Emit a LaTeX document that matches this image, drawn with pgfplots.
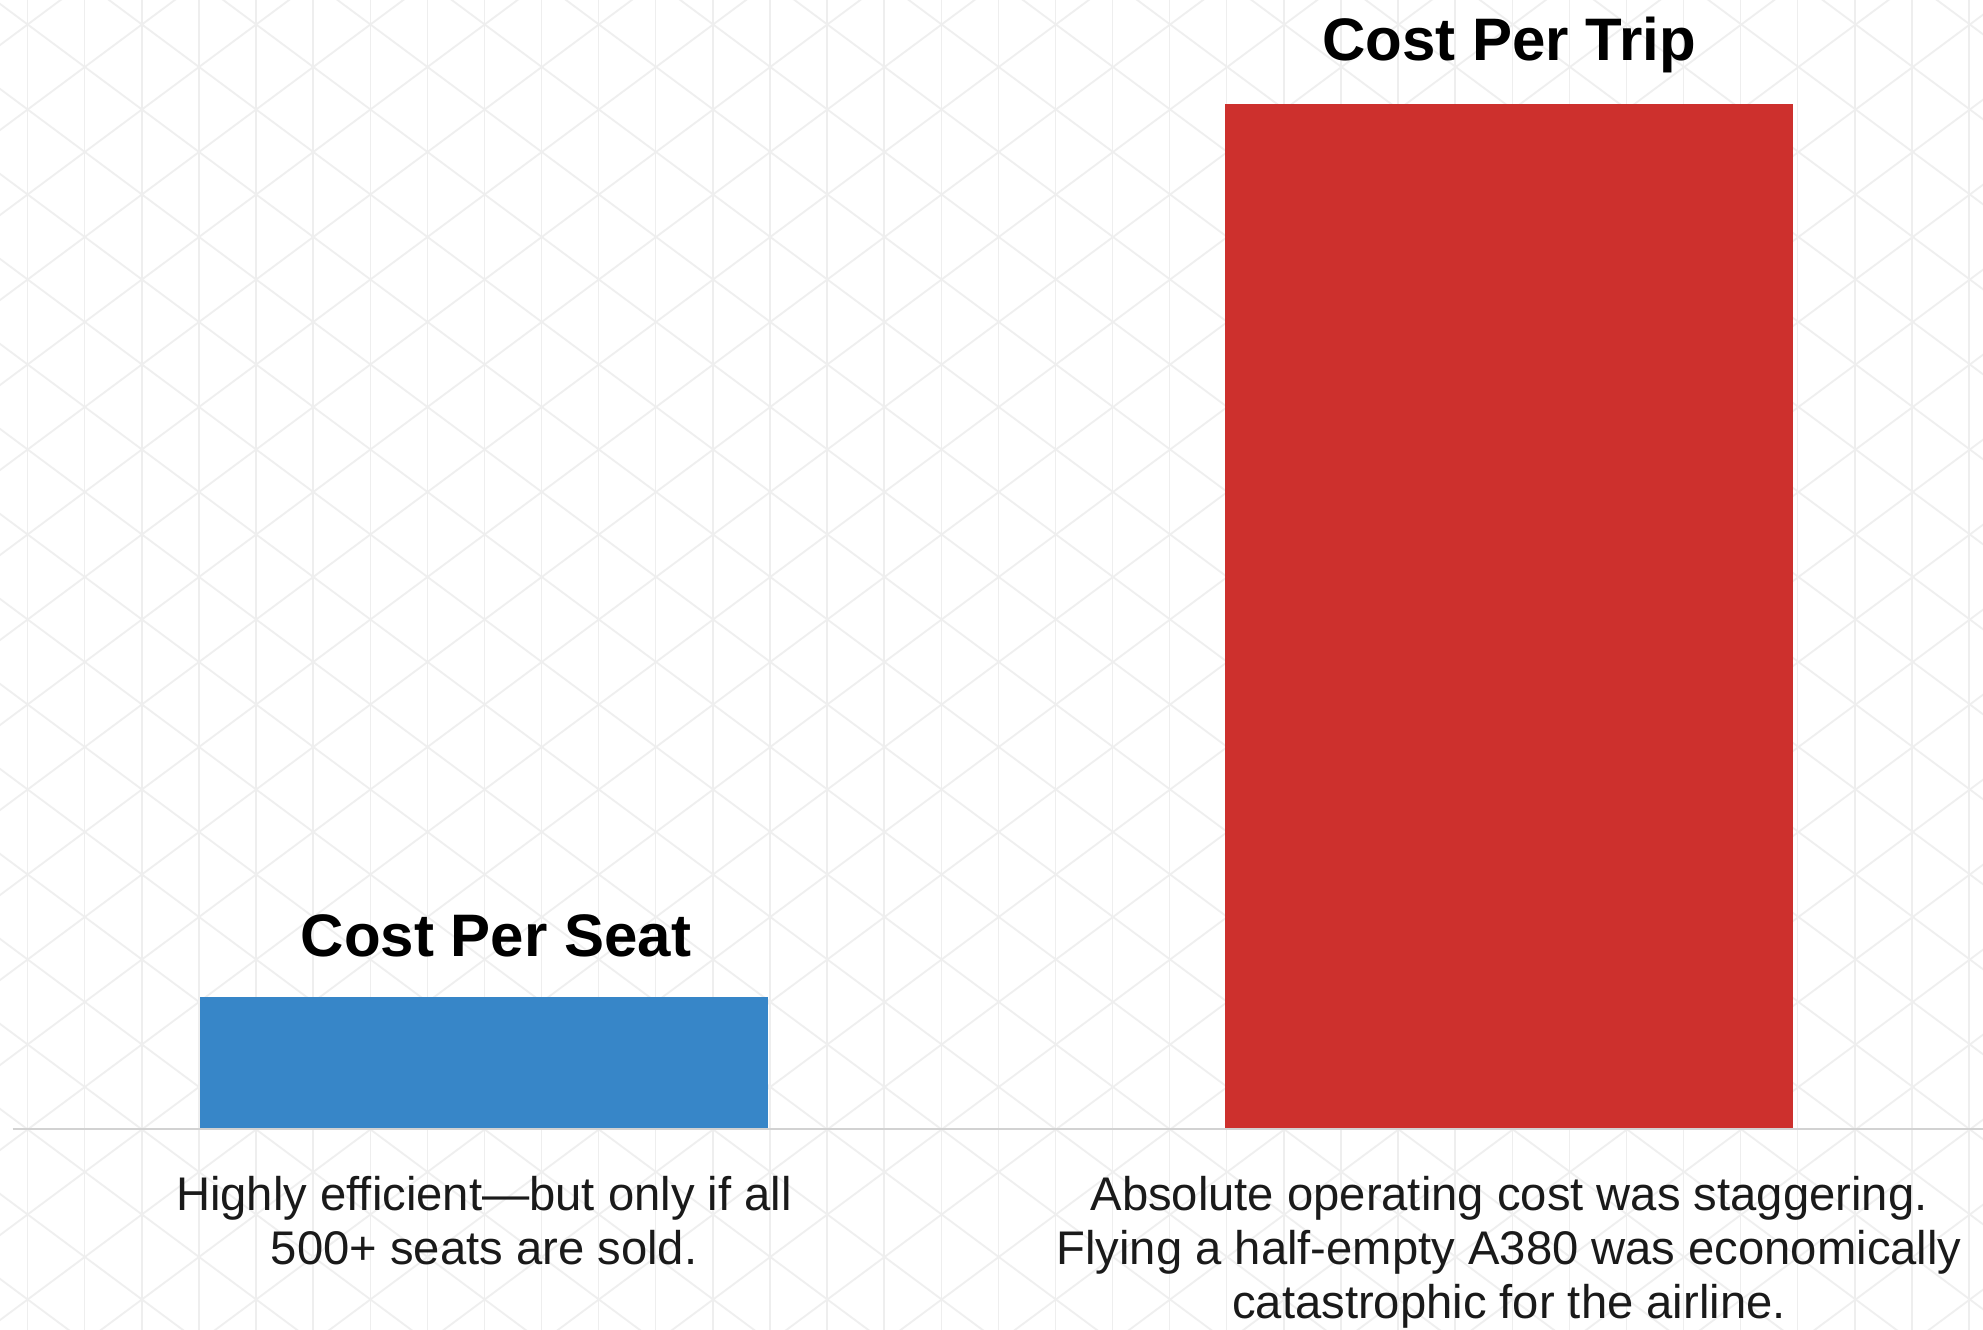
\documentclass[border=0pt]{standalone}
\usepackage{pgfplots}
\pgfplotsset{compat=1.18}
\usepackage{fontspec}
\setmainfont{Liberation Sans}
\definecolor{seatblue}{HTML}{3786C8}
\definecolor{tripred}{HTML}{CD302D}
\definecolor{gridv}{HTML}{EEEEEE}
\definecolor{gridd}{HTML}{EFEFEF}
\definecolor{baseln}{HTML}{D2D2D2}
\definecolor{txt}{HTML}{1A1A1A}

\begin{document}
\begin{tikzpicture}
% picture frame: 1983 x 1330 px, 1 px = 0.25bp
\path[use as bounding box] (0,0) rectangle (495.75bp,332.5bp);
\fill[white] (0,0) rectangle (495.75bp,332.5bp);

% faint isometric background
\begin{scope}[yshift=332.5bp, x=0.25bp, y=-0.25bp]
  \clip (0,0) rectangle (1983,1330);
  \foreach \i in {0,...,35}
    \draw[gridv, line width=0.35bp] ({27.7+57.1*\i},0) -- ++(0,1330);
  \foreach \k in {-20,...,17}
    \draw[gridd, line width=0.45bp] (-100,{24.5+85*\k-95}) -- (2100,{24.5+85*\k+1541.8});
  \foreach \k in {-2,...,35}
    \draw[gridd, line width=0.45bp] (-100,{24.5+85*\k+95}) -- (2100,{24.5+85*\k-1541.8});
\end{scope}

\begin{axis}[
    at={(0,50.25bp)}, anchor=south west,
    scale only axis, width=495.75bp, height=282.25bp,
    xmin=-0.4722, xmax=1.4624, ymin=0, ymax=110.15,
    clip=false,
    ybar, bar width=0.555, /pgf/bar shift=0pt,
    axis line style={draw=none}, tick style={draw=none},
    ytick=\empty,
    xtick={0,1},
    xticklabels={{Highly efficient—but only if all\\500+ seats are sold.},
                 {Absolute operating cost was staggering.\\Flying a half-empty A380 was economically\\catastrophic for the airline.}},
    xticklabel style={align=center, text=txt, yshift=-4bp,
        font=\fontsize{11.8bp}{13.5bp}\selectfont},
    point meta=explicit symbolic,
    nodes near coords,
    every node near coord/.style={anchor=base, yshift=10bp, inner sep=0pt,
        font=\fontsize{15bp}{18bp}\selectfont\bfseries, text=black},
]
\addplot[fill=seatblue, draw=none,
    every node near coord/.append style={xshift=3bp}]
    coordinates {(0,12.9) [Cost Per Seat]};
\addplot[fill=tripred, draw=none,
    every node near coord/.append style={yshift=0.8bp}]
    coordinates {(1,100) [Cost Per Trip]};
\draw[baseln, line width=0.6bp] (axis cs:-0.46,0) -- (axis cs:1.4624,0);
\end{axis}
\end{tikzpicture}
\end{document}
